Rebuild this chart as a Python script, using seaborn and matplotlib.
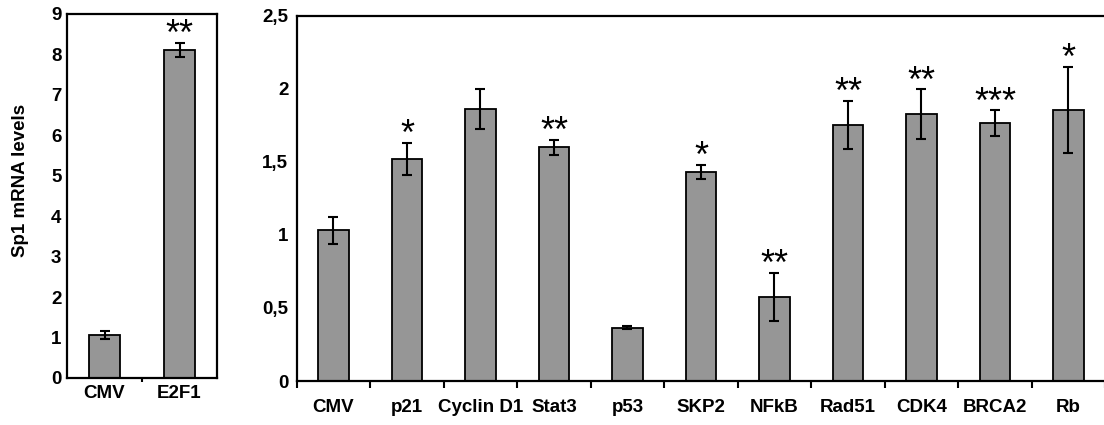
import matplotlib
matplotlib.use("Agg")
import matplotlib.pyplot as plt
import seaborn as sns
import numpy as np

# E2F1 overexpression vs empty vector
left_categories = ["CMV", "E2F1"]
left_values = [1.06, 8.11]
left_errors = [0.10, 0.18]
left_stars = ["", "**"]
left_ticks = [0, 1, 2, 3, 4, 5, 6, 7, 8, 9]

# Panel of cell-cycle / DNA-repair genes
right_categories = ["CMV", "p21", "Cyclin D1", "Stat3", "p53", "SKP2",
                    "NFkB", "Rad51", "CDK4", "BRCA2", "Rb"]
right_values = [1.03, 1.52, 1.86, 1.60, 0.365, 1.43, 0.575, 1.75, 1.825, 1.765, 1.855]
right_errors = [0.09, 0.11, 0.135, 0.05, 0.01, 0.05, 0.165, 0.165, 0.17, 0.087, 0.295]
right_stars = ["", "*", "", "**", "", "*", "**", "**", "**", "***", "*"]
right_ticks = [0, 0.5, 1, 1.5, 2, 2.5]
right_ticklabels = ["0", "0,5", "1", "1,5", "2", "2,5"]

sns.set_style("white")
plt.rcParams["font.family"] = ["Liberation Sans", "DejaVu Sans"]
plt.rcParams["text.color"] = "black"

BAR_COLOR = "#969696"
LABEL_SIZE = 13.5
W, H = 1104, 425
fig = plt.figure(figsize=(W / 100, H / 100), dpi=100)


def px_axes(x0, y_top, x1, y_bottom):
    return fig.add_axes([x0 / W, (H - y_bottom) / H, (x1 - x0) / W, (y_bottom - y_top) / H])


def draw_panel(ax, cats, vals, errs, stars, ylim, minor_len, xpad, ypad):
    sns.barplot(x=cats, y=vals, color=BAR_COLOR, width=0.41, saturation=1,
                edgecolor="black", linewidth=1.3, ax=ax, errorbar=None, zorder=2)
    pos = np.arange(len(cats))
    ax.errorbar(pos, vals, yerr=errs, fmt="none", ecolor="black",
                elinewidth=1.5, capsize=3.6, capthick=1.5, zorder=3)
    for i, (v, e, s) in enumerate(zip(vals, errs, stars)):
        if s:
            ax.annotate(s, xy=(i, v + e), xytext=(0, -1.5), textcoords="offset points",
                        ha="center", va="baseline", fontsize=26,
                        family="Liberation Sans", color="black")
    ax.set_xlim(-0.5, len(cats) - 0.5)
    ax.set_ylim(*ylim)
    ax.set_xlabel("")
    ax.set_ylabel("")
    for sp in ax.spines.values():
        sp.set_visible(True)
        sp.set_color("black")
        sp.set_linewidth(1.6)
    ax.set_xticks(pos)
    ax.set_xticks(np.arange(-0.5, len(cats), 1.0), minor=True)
    ax.tick_params(axis="x", which="major", length=0, pad=xpad)
    ax.tick_params(axis="x", which="minor", length=minor_len, width=1.5,
                   direction="out", color="black", bottom=True)
    ax.tick_params(axis="y", which="major", length=0, pad=ypad)
    for lab in ax.get_xticklabels():
        lab.set_fontweight("bold")
        lab.set_fontsize(LABEL_SIZE)
        lab.set_color("black")


ax_l = px_axes(67, 14, 217, 378)
draw_panel(ax_l, left_categories, left_values, left_errors, left_stars,
           (0, 9), 3, 5, 4)
ax_l.set_yticks(left_ticks)
ax_l.set_yticklabels([str(t) for t in left_ticks], fontweight="bold",
                     fontsize=LABEL_SIZE, color="black")
ax_l.set_xticks([0.5], minor=True)

ax_r = px_axes(296.7, 15.7, 1105.2, 381)
draw_panel(ax_r, right_categories, right_values, right_errors, right_stars,
           (0, 2.5), 5, 13, 6)
ax_r.set_yticks(right_ticks)
ax_r.set_yticklabels(right_ticklabels, fontweight="bold", fontsize=LABEL_SIZE,
                     color="black")

fig.text(21 / W, 1 - 180 / H, "Sp1 mRNA levels", rotation=90, ha="center",
         va="center", fontsize=LABEL_SIZE, fontweight="bold", color="black")

fig.savefig("out.png", dpi=100)
